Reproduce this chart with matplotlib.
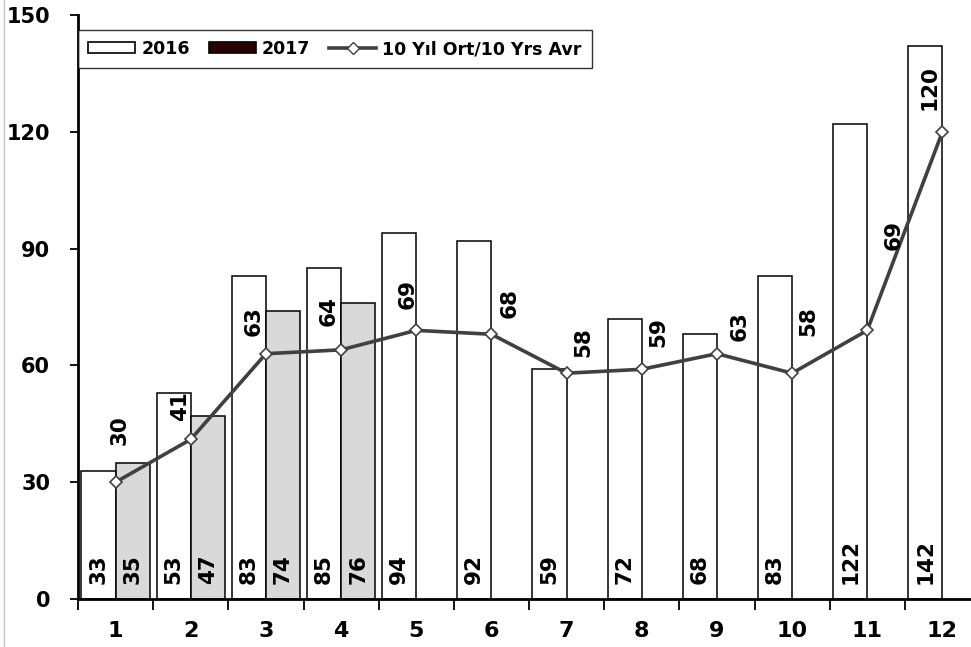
import numpy as np
import matplotlib.pyplot as plt
from matplotlib.patches import Patch
from matplotlib.lines import Line2D

# Data
months = ['1', '2', '3', '4', '5', '6', '7', '8', '9', '10', '11', '12']
y2016 = [33, 53, 83, 85, 94, 92, 59, 72, 68, 83, 122, 142]
y2017 = [35, 47, 74, 76]
avg10 = [30, 41, 63, 64, 69, 68, 58, 59, 63, 58, 69, 120]

# label offsets for the average line (pixels), as placed in the original
avg_offsets = [(4, 52), (-11, 33), (-12, 33), (-12, 39), (-9, 36), (18, 31),
               (17, 31), (17, 37), (23, 28), (16, 52), (26, 95), (-13, 44)]

plt.rcParams['font.family'] = 'DejaVu Sans'
plt.rcParams['font.weight'] = 'bold'

fig = plt.figure(figsize=(9.71, 6.47), dpi=100)
ax = fig.add_axes([78 / 971, 48 / 647, 902 / 971, 584 / 647])

x = np.arange(1, len(months) + 1)
w = 0.455
line_col = '#404040'
lab_size = 15.5

ax.bar(x - w / 2, y2016, width=w, color='white', edgecolor='black', linewidth=1.1, zorder=2)
x17 = x[:len(y2017)]
ax.bar(x17 + w / 2, y2017, width=w, color='#d9d9d9', edgecolor='black', linewidth=1.1, zorder=2)
ax.plot(x, avg10, color=line_col, linewidth=2.6, marker='D', markersize=6,
        markerfacecolor='white', markeredgecolor=line_col, markeredgewidth=1.2, zorder=4)

# value labels inside bars
for xi, v in zip(x - w / 2, y2016):
    ax.annotate(str(v), (xi, 0), xytext=(0, 15), textcoords='offset pixels',
                rotation=90, ha='center', va='bottom', fontsize=lab_size, fontweight='bold', zorder=5)
for xi, v in zip(x17 + w / 2, y2017):
    ax.annotate(str(v), (xi, 0), xytext=(0, 15), textcoords='offset pixels',
                rotation=90, ha='center', va='bottom', fontsize=lab_size, fontweight='bold', zorder=5)
for xi, v, (dx, dy) in zip(x, avg10, avg_offsets):
    ax.annotate(str(v), (xi, v), xytext=(dx, dy), textcoords='offset pixels',
                rotation=90, ha='center', va='center', fontsize=lab_size, fontweight='bold', zorder=5)

ax.set_xlim(0.5, 12.5)
ax.set_ylim(0, 150)
ax.set_yticks(np.arange(0, 151, 30))
ax.set_xticks(np.arange(0.5, 12.6, 1))
ax.set_xticklabels([])
ax.set_xticks(x, minor=True)
ax.set_xticklabels(months, minor=True)
ax.tick_params(axis='x', which='major', length=8, width=1.3, direction='out')
ax.tick_params(axis='x', which='minor', length=0, pad=16, labelsize=16)
ax.tick_params(axis='y', length=6, width=1.3, direction='out', pad=14, labelsize=15)
for lab in ax.get_xticklabels(minor=True) + ax.get_yticklabels():
    lab.set_fontweight('bold')

for s in ['top', 'right']:
    ax.spines[s].set_visible(False)
ax.spines['left'].set_linewidth(2)
ax.spines['bottom'].set_linewidth(2)

handles = [Patch(facecolor='white', edgecolor='black', linewidth=1.2),
           Patch(facecolor='#2a0000', edgecolor='black', linewidth=1.2),
           Line2D([], [], color=line_col, linewidth=2.6, marker='D', markersize=6,
                  markerfacecolor='white', markeredgecolor=line_col)]
leg = ax.legend(handles, ['2016', '2017', '10 Yıl Ort/10 Yrs Avr'], loc='upper left',
                bbox_to_anchor=(0.0, 0.975), ncol=3, frameon=True, fancybox=False,
                edgecolor='black', prop={'weight': 'bold', 'size': 12.5},
                handlelength=2.7, handleheight=0.6, columnspacing=1.1,
                handletextpad=0.35, borderpad=0.6, borderaxespad=0)
leg.get_frame().set_linewidth(1.0)

# outer chart border line on the left
fig.add_artist(Line2D([4 / 971, 4 / 971], [0, 1], color='#c8c8c8', linewidth=1))

fig.savefig('out.png', dpi=100)
